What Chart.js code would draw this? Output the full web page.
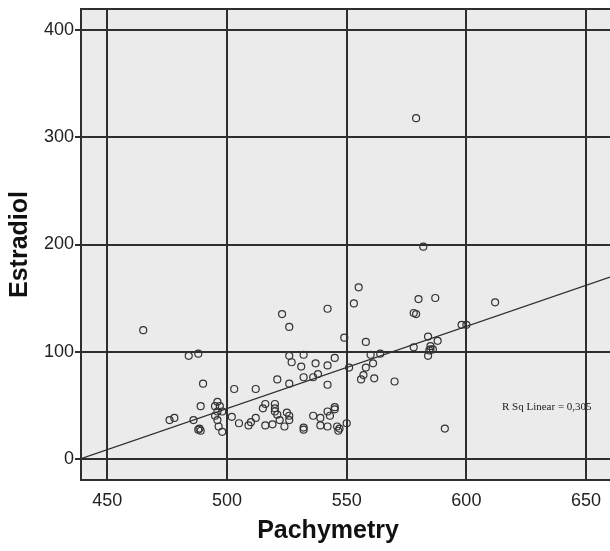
<!DOCTYPE html>
<html>
<head>
<meta charset="utf-8">
<script src="https://cdn.jsdelivr.net/npm/chart.js@4.4.0/dist/chart.umd.min.js"></script>
<style>
  html, body { margin: 0; padding: 0; background: #ffffff; }
  #wrap { width: 610px; height: 551px; position: relative; }
</style>
</head>
<body>
<div id="wrap"><canvas id="c" width="610" height="551"></canvas></div>
<script>
// Data
const pachymetry = [465,484,488,490,503,489,496,495,497,496,498,495,496,496.5,498,476,478,486,488,489,488.5,502,505,509,510,512,512,516,515,520,520,520,525,526,526,521,522,519,516,524,532,532,536,539,542,545,545,543,539,542,546,546.5,547,550,521,526,532,536,538,542,526,527,532,531,537,542,545,551,558,561,557,556,561.5,523,526,542,555,553,549,558,564,560,570,580,587,578,579,612,598,600,584,588,578,585,585,586,584.5,584,591,579,582];
const estradiol = [120,96,98,70,65,49,53,49,49,44,44,40,36,30,25,36,38,36,27,26,28,39,33,31,34,38,65,51,47,51,47,44,43,40,36,41,36,32,31,30,29,27,40,38,44,48,46,40,31,30,30,26,28,33,74,70,76,76,79,69,96,90,97,86,89,87,94,85,85,89,78,74,75,135,123,140,160,145,113,109,98,97,72,149,150,136,135,146,125,125,114,110,104,105,102,102,101,96,28,318,198];
const fitX = [439, 660];
const fitY = [0, 169.5];
const xTicks = [450, 500, 550, 600, 650];
const yTicks = [0, 100, 200, 300, 400];
const xTitle = 'Pachymetry';
const yTitle = 'Estradiol';
const rsqLabel = 'R Sq Linear = 0,305';

const points = pachymetry.map((x, i) => ({ x: x, y: estradiol[i] }));
const fitLine = fitX.map((x, i) => ({ x: x, y: fitY[i] }));

const lineCol = '#2e2e2e';

const bgPlugin = {
  id: 'bg',
  beforeDraw(chart) {
    const { ctx, chartArea: a } = chart;
    ctx.save();
    ctx.fillStyle = '#ebebeb';
    ctx.fillRect(a.left, a.top, a.right - a.left, a.bottom - a.top);
    ctx.restore();
  },
  afterDraw(chart) {
    const { ctx, chartArea: a } = chart;
    ctx.save();
    ctx.strokeStyle = lineCol;
    ctx.lineWidth = 2;
    ctx.beginPath();
    ctx.moveTo(a.left, a.top);
    ctx.lineTo(a.right, a.top);
    ctx.stroke();
    // R Sq label
    ctx.fillStyle = '#222';
    ctx.font = '11px "Liberation Serif", "DejaVu Serif", serif';
    ctx.textBaseline = 'alphabetic';
    ctx.textAlign = 'left';
    ctx.fillText(rsqLabel, 502, 410);
    // x axis title
    ctx.font = 'bold 25px "Liberation Sans", Arial, sans-serif';
    ctx.textAlign = 'center';
    ctx.fillStyle = '#111';
    ctx.fillText(xTitle, 328, 538);
    ctx.restore();
  }
};

new Chart(document.getElementById('c'), {
  type: 'scatter',
  data: {
    datasets: [
      {
        type: 'line',
        data: fitLine,
        borderColor: lineCol,
        borderWidth: 1.3,
        pointRadius: 0,
        fill: false,
        order: 1
      },
      {
        type: 'scatter',
        data: points,
        pointStyle: 'circle',
        pointRadius: 3.5,
        pointBorderWidth: 1.2,
        borderColor: '#333333',
        backgroundColor: 'rgba(0,0,0,0)',
        order: 0
      }
    ]
  },
  options: {
    responsive: false,
    animation: false,
    events: [],
    layout: { autoPadding: false, padding: { top: 9, right: 0, left: 0, bottom: 0 } },
    plugins: { legend: { display: false }, tooltip: { enabled: false } },
    scales: {
      x: {
        type: 'linear',
        min: 439,
        max: 660,
        afterBuildTicks: s => { s.ticks = xTicks.map(v => ({ value: v })); },
        afterFit: s => { s.height = 71; s.paddingRight = 0; s.paddingLeft = 0; },
        grid: { color: lineCol, lineWidth: 2, drawTicks: false },
        border: { color: lineCol, width: 2 },
        ticks: {
          padding: 10,
          color: '#222',
          font: { family: '"Liberation Sans", Arial, sans-serif', size: 18 },
          maxRotation: 0
        }
      },
      y: {
        type: 'linear',
        min: -20,
        max: 420,
        afterBuildTicks: s => { s.ticks = yTicks.map(v => ({ value: v })); },
        afterFit: s => { s.width = 81; s.paddingTop = 0; s.paddingBottom = 0; },
        grid: { color: lineCol, lineWidth: 2, tickLength: 6 },
        border: { color: lineCol, width: 2 },
        ticks: {
          padding: 1,
          color: '#222',
          font: { family: '"Liberation Sans", Arial, sans-serif', size: 18 }
        },
        title: {
          display: true,
          text: yTitle,
          color: '#111',
          font: { family: '"Liberation Sans", Arial, sans-serif', size: 25, weight: 'bold' },
          padding: { top: 5, bottom: 0 }
        }
      }
    }
  },
  plugins: [bgPlugin]
});
</script>
</body>
</html>
